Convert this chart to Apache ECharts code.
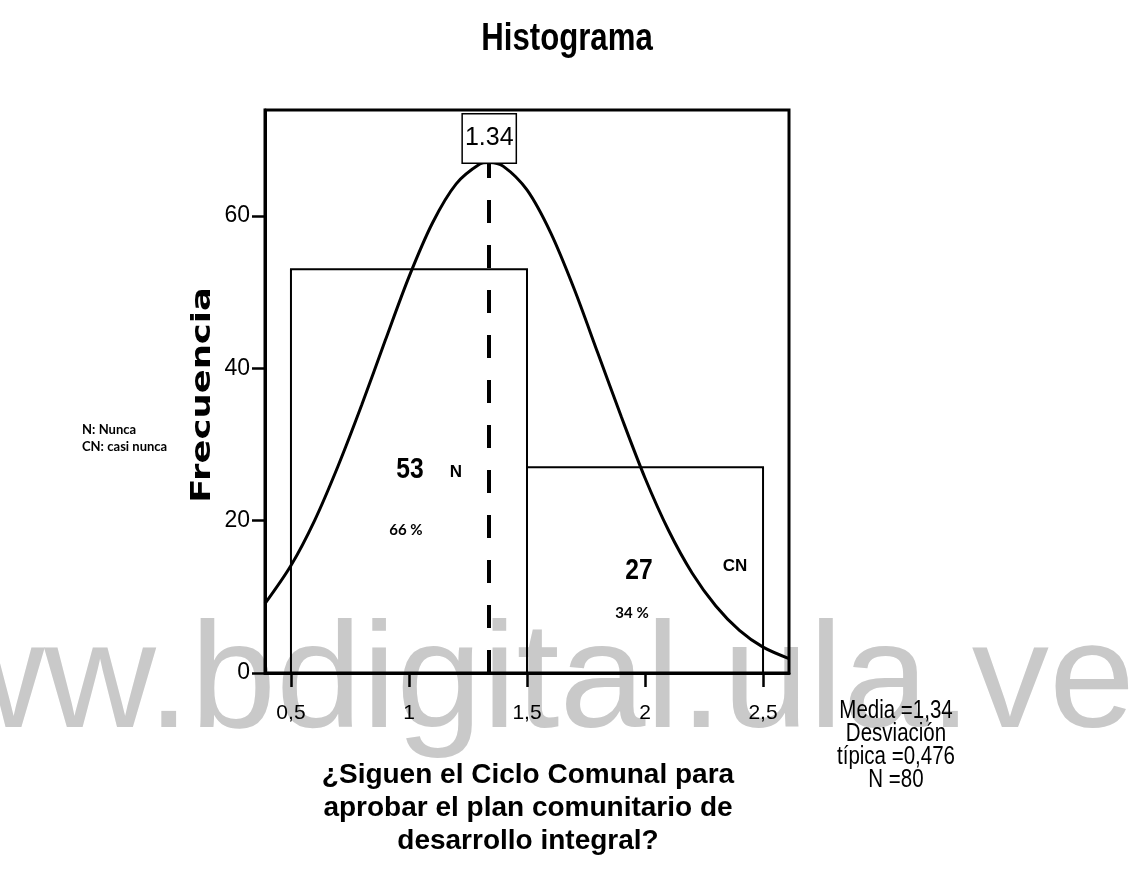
<!DOCTYPE html>
<html><head><meta charset="utf-8">
<script src="https://cdn.jsdelivr.net/npm/echarts@6/dist/echarts.min.js"></script>
<style>html,body{margin:0;padding:0;background:#fff}#c{width:1138px;height:871px}</style>
</head><body><div id="c"></div>
<script>
// ---- data ----
const binStarts = [0.5, 1.5];
const binEnds = [1.5, 2.5];
const frequencies = [53, 27];
const codes = ['N', 'CN'];
const percents = ['66 %', '34 %'];
const curveX = [0.39, 0.5, 0.6, 0.7, 0.8, 0.9, 1.0, 1.1, 1.2, 1.3, 1.34, 1.4, 1.5, 1.6, 1.7, 1.8, 1.9, 2.0, 2.1, 2.2, 2.3, 2.4, 2.5, 2.61];
const curveY = [9.1, 14.1, 20.0, 27.2, 35.2, 43.7, 52.0, 59.1, 64.2, 66.8, 67.0, 66.5, 63.4, 57.8, 50.4, 42.0, 33.6, 25.6, 18.7, 13.1, 8.8, 5.6, 3.4, 1.9];
const meanValue = 1.34;
const meanLabel = '1.34';
const peakFrequency = 67;
const xTicks = [0.5, 1, 1.5, 2, 2.5];
const yTicks = [0, 20, 40, 60];
const statsLines = ['Media =1,34', 'Desviación', 'típica =0,476', 'N =80'];
const noteLabels = ['N:', 'CN:'];
const noteTexts = ['Nunca', 'casi nunca'];
const xTitleLines = ['¿Siguen el Ciclo Comunal para', 'aprobar el plan comunitario de', 'desarrollo integral?'];
const titleText = 'Histograma';
const yTitleText = 'Frecuencia';
const watermarkText = 'www.bdigital.ula.ve';

// ---- layout (pixel offsets of annotations relative to bar centres) ----
const countOffsets = [[1, -1], [-6, 1]];
const codeOffsets = [[47, 1], [90, -4]];
const pctOffsets = [[-3, 59], [-13, 43]];

const SANS = '"Liberation Sans", Arial, sans-serif';
const NOTE = 'Lato, "Open Sans", sans-serif';

const chart = echarts.init(document.getElementById('c'), null, {renderer: 'canvas'});

const histData = binStarts.map((s, i) => [s, binEnds[i], frequencies[i]]);
const curveData = curveX.map((x, i) => [x, curveY[i]]);
const fmt = v => String(v).replace('.', ',');

const option = {
  backgroundColor: '#fff',
  animation: false,
  grid: {left: 265, right: 349, top: 110, bottom: 198, show: true, borderColor: '#000', borderWidth: 3, backgroundColor: 'transparent'},
  xAxis: {
    type: 'value', min: 0.39, max: 2.61,
    axisLine: {show: true, onZero: false, lineStyle: {color: '#000', width: 3}},
    axisTick: {show: true, customValues: xTicks, length: 14, lineStyle: {color: '#000', width: 2.5}},
    axisLabel: {show: true, customValues: xTicks, formatter: fmt, color: '#000', fontFamily: SANS, fontSize: 21, margin: 30},
    splitLine: {show: false}
  },
  yAxis: {
    type: 'value', min: 0, max: 73.9,
    axisLine: {show: true, lineStyle: {color: '#000', width: 3}},
    axisTick: {show: true, customValues: yTicks, length: 13, lineStyle: {color: '#000', width: 2.5}},
    axisLabel: {show: true, customValues: yTicks, color: '#000', fontFamily: SANS, fontSize: 23, margin: 15},
    splitLine: {show: false}
  },
  graphic: [
    {type: 'text', z: -100, x: 1135, y: 686, scaleX: 1.03, style: {text: watermarkText, fill: '#c9c9c9', font: 'normal 150px ' + SANS, align: 'right', verticalAlign: 'middle'}},
    {type: 'text', x: 567, y: 40, scaleX: 0.82, style: {text: titleText, fill: '#000', font: 'bold 38px ' + SANS, align: 'center', verticalAlign: 'middle'}},
    {type: 'text', x: 203, y: 395, rotation: Math.PI / 2, scaleX: 1.36, style: {text: yTitleText, fill: '#000', font: 'bold 26px "DejaVu Sans", sans-serif', align: 'center', verticalAlign: 'middle'}},
    {type: 'text', x: 528, y: 808, style: {text: xTitleLines.join('\n'), fill: '#000', font: 'bold 28px ' + SANS, lineHeight: 33, align: 'center', verticalAlign: 'middle'}},
    {type: 'text', x: 896, y: 746, scaleX: 0.82, style: {text: statsLines.join('\n'), fill: '#000', font: 'normal 25px ' + SANS, lineHeight: 23, align: 'center', verticalAlign: 'middle'}},
    {type: 'text', x: 82, y: 438, style: {
      text: noteLabels.map((l, i) => '{b|' + l + '} {r|' + noteTexts[i] + '}').join('\n'),
      align: 'left', verticalAlign: 'middle', lineHeight: 17,
      rich: {
        b: {fontFamily: NOTE, fontWeight: 'bold', fontSize: 13, fill: '#000', color: '#000', lineHeight: 17},
        r: {fontFamily: NOTE, fontWeight: 'bold', fontSize: 13, fill: '#000', color: '#000', lineHeight: 17}
      }
    }}
  ],
  series: [
    {
      type: 'custom',
      data: histData,
      encode: {x: [0, 1], y: 2},
      z: 3,
      renderItem: function (params, api) {
        const i = params.dataIndex;
        const s = api.value(0), e = api.value(1), f = api.value(2);
        const p0 = api.coord([s, f]);
        const p1 = api.coord([e, 0]);
        const c = api.coord([(s + e) / 2, f / 2]);
        return {
          type: 'group',
          children: [
            {type: 'rect', shape: {x: p0[0], y: p0[1], width: p1[0] - p0[0], height: p1[1] - p0[1]}, style: {fill: 'none', stroke: '#000', lineWidth: 2}},
            {type: 'text', x: c[0] + countOffsets[i][0], y: c[1] + countOffsets[i][1], scaleX: 0.85, style: {text: String(frequencies[i]), fill: '#000', font: 'bold 29px ' + SANS, align: 'center', verticalAlign: 'middle'}},
            {type: 'text', x: c[0] + codeOffsets[i][0], y: c[1] + codeOffsets[i][1], style: {text: codes[i], fill: '#000', font: 'bold 17px ' + SANS, align: 'center', verticalAlign: 'middle'}},
            {type: 'text', x: c[0] + pctOffsets[i][0], y: c[1] + pctOffsets[i][1], style: {text: percents[i], fill: '#000', font: 'bold 15px ' + NOTE, align: 'center', verticalAlign: 'middle'}}
          ]
        };
      }
    },
    {
      type: 'line',
      data: curveData,
      smooth: 0.3,
      showSymbol: false,
      z: 4,
      lineStyle: {color: '#000', width: 3},
      markLine: {
        silent: true,
        symbol: ['none', 'none'],
        lineStyle: {color: '#000', width: 4, type: [23, 22]},
        label: {
          show: true, position: 'end', distance: 0, formatter: meanLabel,
          color: '#000', fontFamily: SANS, fontSize: 25,
          backgroundColor: '#fff', borderColor: '#000', borderWidth: 1.5,
          padding: [11, 2, 12, 2]
        },
        data: [[{coord: [meanValue, 0]}, {coord: [meanValue, peakFrequency]}]]
      }
    }
  ]
};
chart.setOption(option);
</script>
</body></html>
